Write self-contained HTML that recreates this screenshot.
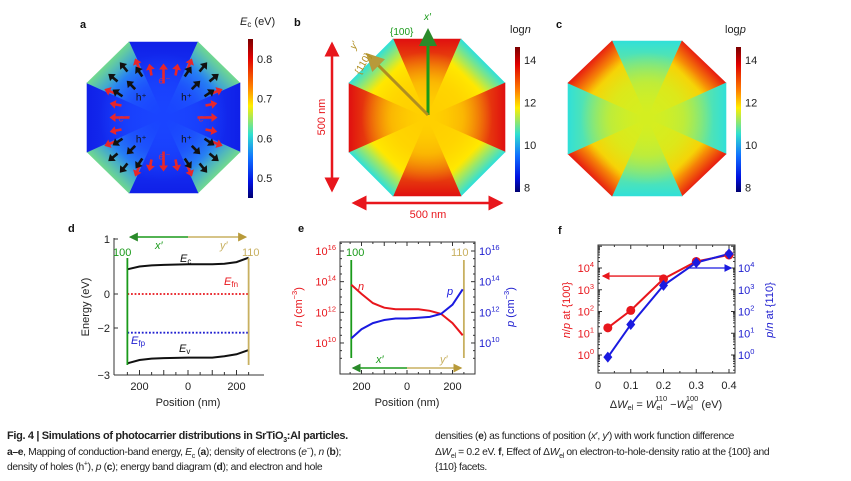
<!DOCTYPE html>
<html><head><meta charset="utf-8"><style>
html,body{margin:0;padding:0;background:#fff;}
svg{display:block;font-family:"Liberation Sans",sans-serif;}
.cap{position:absolute;font-family:"Liberation Sans",sans-serif;font-size:10.3px;color:#222;letter-spacing:-0.35px;line-height:15.5px;white-space:nowrap;}
.cap sub,.cap sup{line-height:0;font-size:7px;}
</style></head><body>
<div style="position:relative;width:851px;height:481px;overflow:hidden">
<svg id="fig" width="851" height="481" viewBox="0 0 851 481">
<defs>
<linearGradient id="jet" x1="0" y1="0" x2="0" y2="1">
<stop offset="0" stop-color="#7a0000"/><stop offset="0.12" stop-color="#e00000"/><stop offset="0.3" stop-color="#ff8000"/><stop offset="0.42" stop-color="#ffee00"/><stop offset="0.6" stop-color="#30e0d0"/><stop offset="0.75" stop-color="#1070ff"/><stop offset="0.9" stop-color="#0010e0"/><stop offset="1" stop-color="#000070"/>
</linearGradient>
<marker id="ahR" markerWidth="6" markerHeight="6" refX="5" refY="3" orient="auto-start-reverse"><path d="M0,0L6,3L0,6z" fill="#e8161c"/></marker>
<marker id="ahG" markerWidth="6" markerHeight="6" refX="5" refY="3" orient="auto-start-reverse"><path d="M0,0L6,3L0,6z" fill="#2a8a2a"/></marker>
<marker id="ahO" markerWidth="6" markerHeight="6" refX="5" refY="3" orient="auto-start-reverse"><path d="M0,0L6,3L0,6z" fill="#b89a3a"/></marker>
<marker id="ahB" markerWidth="6" markerHeight="6" refX="5" refY="3" orient="auto-start-reverse"><path d="M0,0L6,3L0,6z" fill="#1a1ae0"/></marker>
</defs>
<g id="maps"></g>
<g id="pd"></g><g id="pe"></g><g id="pf"></g>
</svg>
<div class="cap" style="left:7px;top:429px;width:425px">
<b style="font-size:11px">Fig. 4 | Simulations of photocarrier distributions in SrTiO<sub>3</sub>:Al particles.</b><br>
<b>a–e</b>, Mapping of conduction-band energy, <i>E</i><sub>c</sub> (<b>a</b>); density of electrons (<i>e</i><sup>−</sup>), <i>n</i> (<b>b</b>);<br>
density of holes (h<sup>+</sup>), <i>p</i> (<b>c</b>); energy band diagram (<b>d</b>); and electron and hole</div>
<div class="cap" style="left:435px;top:429px;width:415px">
densities (<b>e</b>) as functions of position (<i>x</i>′, <i>y</i>′) with work function difference<br>
Δ<i>W</i><sub>el</sub> = 0.2 eV. <b>f</b>, Effect of Δ<i>W</i><sub>el</sub> on electron-to-hole-density ratio at the {100} and<br>
{110} facets.</div>
</div>
<script>
const NS="http://www.w3.org/2000/svg";
function mk(parent,tag,attrs,text){const e=document.createElementNS(NS,tag);for(const k in attrs)e.setAttribute(k,attrs[k]);if(text!==undefined)e.textContent=text;parent.appendChild(e);return e;}
const defs=document.querySelector('defs');
let gid=0;

const maps=document.getElementById('maps');
function octagon(name,x0,x1,y0,y1,cx,cy,flatEdge,flatCenter,diagEdge,diagMid,diagCenter,blobColor){
  const g=mk(maps,'g',{});
  
  
  const P=[[x0+cx,y0],[x1-cx,y0],[x1,y0+cy],[x1,y1-cy],[x1-cx,y1],[x0+cx,y1],[x0,y1-cy],[x0,y0+cy]];
  const C=[(x0+x1)/2,(y0+y1)/2];
  for(let i=0;i<8;i++){
    const a=P[i],b=P[(i+1)%8];const m=[(a[0]+b[0])/2,(a[1]+b[1])/2];
    const flat=(i%2===0);
    const id='og'+(gid++);
    const lg=mk(defs,'linearGradient',{id:id,gradientUnits:'userSpaceOnUse',x1:m[0],y1:m[1],x2:C[0],y2:C[1]});
    if(flat){mk(lg,'stop',{offset:0,'stop-color':flatEdge});mk(lg,'stop',{offset:1,'stop-color':flatCenter});}
    else{mk(lg,'stop',{offset:0,'stop-color':diagEdge});mk(lg,'stop',{offset:0.3,'stop-color':diagMid});mk(lg,'stop',{offset:1,'stop-color':diagCenter});}
    mk(g,'polygon',{points:[a,b,C].map(p=>p.join(',')).join(' '),fill:'url(#'+id+')',stroke:'url(#'+id+')','stroke-width':0.6});
  }
  const rid='rg'+(gid++);
  const rg=mk(defs,'radialGradient',{id:rid,gradientUnits:'userSpaceOnUse',cx:C[0],cy:C[1],r:(x1-x0)*0.42});
  mk(rg,'stop',{offset:0,'stop-color':blobColor,'stop-opacity':1});
  mk(rg,'stop',{offset:0.55,'stop-color':blobColor,'stop-opacity':0.7});
  mk(rg,'stop',{offset:1,'stop-color':blobColor,'stop-opacity':0});
  mk(g,'circle',{cx:C[0],cy:C[1],r:(x1-x0)*0.42,fill:'url(#'+rid+')'});
  return {g,C,P};
}
function colorbar(name,x,y0,y1,ticks,vmin,vmax,title,tx){
  const g=mk(maps,'g',{});
  
  
  mk(g,'rect',{x:x,y:y0,width:5,height:y1-y0,fill:'url(#jet)'});
  ticks.forEach(t=>{const y=y1-(t-vmin)/(vmax-vmin)*(y1-y0);mk(g,'text',{x:x+9,y:y+4,'font-size':11,fill:'#222'},String(t));});
  const tt=mk(g,'text',{x:tx,y:y0-14,'font-size':11,fill:'#222'});tt.innerHTML=title;
}
function label(x,y,t,attrs){return mk(maps,'text',Object.assign({x:x,y:y,'font-size':11,'font-weight':'bold',fill:'#111'},attrs||{}),t);}

const A=octagon('ec-map',87,240,42,193,42,41,'#1020e8','#1a48ff','#70d890','#2a90f0','#1a48ff','#1a44ff');
colorbar('ec-colorbar',248,39,198,[0.5,0.6,0.7,0.8],0.45,0.85,'<tspan font-style="italic">E</tspan><tspan font-size="8" dy="2">c</tspan><tspan dy="-2"> (eV)</tspan>',240);
label(80,28,'a',{});
function arrow(g,x,y,ang,len,col){const r=ang*Math.PI/180;const x2=x+Math.cos(r)*len,y2=y+Math.sin(r)*len;
  mk(g,'line',{x1:x,y1:y,x2:x2-Math.cos(r)*3,y2:y2-Math.sin(r)*3,stroke:col,'stroke-width':2.6});
  const hx=x2,hy=y2,w=4.5;mk(g,'polygon',{points:`${hx},${hy} ${hx-Math.cos(r)*6-Math.sin(r)*w},${hy-Math.sin(r)*6+Math.cos(r)*w} ${hx-Math.cos(r)*6+Math.sin(r)*w},${hy-Math.sin(r)*6-Math.cos(r)*w}`,fill:col});}
const ag=mk(maps,'g',{});


const ac=A.C;
[0,90,180,270].forEach(dir=>{
  const r=dir*Math.PI/180;
  [-24,-12,0,12,24].forEach((o,k)=>{
    const d=(k===2)?52:(k===1||k===3?60:66);
    const px=ac[0]+Math.cos(r)*(d-18)-Math.sin(r)*o, py=ac[1]+Math.sin(r)*(d-18)+Math.cos(r)*o;
    arrow(ag,px,py,dir+o*0.9,k===2?20:12,'#e8262a');
  });
  const ex=ac[0]+Math.cos(r)*40, ey=ac[1]+Math.sin(r)*38;
  mk(ag,'text',{x:ex-5,y:ey+4,'font-size':10,fill:'#c03060','font-style':'italic'},'e⁻');
});
[45,135,225,315].forEach(dir=>{
  const r=dir*Math.PI/180;
  [[-14,44],[0,40],[14,44],[-7,58],[7,58]].forEach(([o,d])=>{
    const px=ac[0]+Math.cos(r)*d-Math.sin(r)*o, py=ac[1]+Math.sin(r)*d+Math.cos(r)*o;
    arrow(ag,px,py,dir+o*0.8,12,'#111');
  });
  const hx=ac[0]+Math.cos(r)*32, hy=ac[1]+Math.sin(r)*30;
  mk(ag,'text',{x:hx-5,y:hy+4,'font-size':10,fill:'#111'},'h⁺');
});

const B=octagon('log-n-map',349,505,39,196,44,44,'#e01010','#ffd800','#30e0d8','#ffee00','#ffcc00','#ffd000');
colorbar('log-n-colorbar',515,47,192,[8,10,12,14],7.8,14.6,'log<tspan font-style="italic">n</tspan>',510);
label(294,26,'b',{});
const sg=mk(maps,'g',{});


mk(sg,'line',{x1:332,y1:44,x2:332,y2:190,stroke:'#e8161c','stroke-width':2.5,'marker-start':'url(#ahR)','marker-end':'url(#ahR)'});
mk(sg,'text',{x:0,y:0,'font-size':11,fill:'#e8161c',transform:'translate(325,117) rotate(-90)','text-anchor':'middle'},'500 nm');
mk(sg,'line',{x1:354,y1:203,x2:501,y2:203,stroke:'#e8161c','stroke-width':2.5,'marker-start':'url(#ahR)','marker-end':'url(#ahR)'});
mk(sg,'text',{x:428,y:218,'font-size':11,fill:'#e8161c','text-anchor':'middle'},'500 nm');
mk(sg,'line',{x1:428,y1:115,x2:428,y2:31,stroke:'#1a9a1a','stroke-width':3,'marker-end':'url(#ahG)'});
mk(sg,'text',{x:424,y:20,'font-size':10,fill:'#1a9a1a','font-style':'italic'},"x′");
mk(sg,'text',{x:390,y:35,'font-size':10,fill:'#1a9a1a'},'{100}');
mk(sg,'line',{x1:428,y1:115,x2:368,y2:55,stroke:'#b08e20','stroke-width':3,'marker-end':'url(#ahO)'});
mk(sg,'text',{x:0,y:0,'font-size':10,fill:'#b08e20',transform:'translate(360,75) rotate(-60)'},'{110}');
mk(sg,'text',{x:0,y:0,'font-size':10,fill:'#b08e20','font-style':'italic',transform:'translate(355,50) rotate(-60)'},"y′");

octagon('log-p-map',568,726,41,196,44,42,'#30e0d8','#d8f020','#e82010','#ffcc00','#d8f020','#d4ee20');
colorbar('log-p-colorbar',736,47,192,[8,10,12,14],7.8,14.6,'log<tspan font-style="italic">p</tspan>',725);
label(556,28,'c',{});
</script>

<script>
const dPos=[-250,-200,-150,-100,0,100,150,200,250];
const dEc=[0.45,0.5,0.52,0.53,0.54,0.54,0.55,0.58,0.66];
const dEv=[-2.75,-2.68,-2.65,-2.64,-2.63,-2.63,-2.6,-2.56,-2.47];
const dEfn=[0,0];
const dEfp=[-2.1,-2.1];
const dEfX=[-250,250];
const dYTicks=[1,0,-2,-3];
const dXTicks=[-200,0,200];
(function(){
  const g=document.getElementById('pd');
  const X=v=>188+v*0.2425;
  const yAnchorPx=[239,294,328,375];
  const Y=v=>{for(let i=0;i<dYTicks.length-1;i++){const a=dYTicks[i],b=dYTicks[i+1];if(v<=a&&v>=b||i===dYTicks.length-2){return yAnchorPx[i]+(a-v)/(a-b)*(yAnchorPx[i+1]-yAnchorPx[i]);}}};
  const ax=mk(g,'g',{});
  
  
  mk(ax,'line',{x1:114,y1:238,x2:114,y2:375,stroke:'#333','stroke-width':1});
  mk(ax,'line',{x1:114,y1:375,x2:264,y2:375,stroke:'#333','stroke-width':1});
  dYTicks.forEach(t=>{const y=Y(t);mk(ax,'line',{x1:114,y1:y,x2:118,y2:y,stroke:'#333'});mk(ax,'text',{x:110,y:y+4,'font-size':11,'text-anchor':'end',fill:'#222'},t<0?'−'+(-t):String(t));});
  for(let v=-250;v<=250;v+=50){mk(ax,'line',{x1:X(v),y1:375,x2:X(v),y2:v%100===0?370:372,stroke:'#333'});}
  dXTicks.forEach(t=>mk(ax,'text',{x:X(t),y:390,'font-size':11,'text-anchor':'middle',fill:'#222'},String(Math.abs(t))));
  mk(ax,'text',{x:188,y:406,'font-size':11,'text-anchor':'middle',fill:'#222'},'Position (nm)');
  mk(ax,'text',{x:0,y:0,'font-size':11,fill:'#222','text-anchor':'middle',transform:'translate(89,307) rotate(-90)'},'Energy (eV)');
  mk(g,'text',{x:68,y:232,'font-size':11,'font-weight':'bold',fill:'#111'},'d');
  const line=(xs,ys,col,w,dash,name)=>{const p=mk(g,'path',{d:xs.map((x,i)=>(i?'L':'M')+X(x).toFixed(1)+','+Y(ys[i]).toFixed(1)).join(''),fill:'none',stroke:col,'stroke-width':w,'stroke-dasharray':dash||'none'});};
  line(dPos,dEc,'#111',2,null,'ec-curve');
  line(dPos,dEv,'#111',2,null,'ev-curve');
  line(dEfX,dEfn,'#e8161c',1.8,'1.8,1.8','efn-line');
  line(dEfX,dEfp,'#2020d0',1.8,'1.8,1.8','efp-line');
  mk(g,'line',{x1:X(-250),y1:258,x2:X(-250),y2:365,stroke:'#1a9a1a','stroke-width':1.8});
  mk(g,'line',{x1:X(250),y1:258,x2:X(250),y2:365,stroke:'#c8b060','stroke-width':1.8});
  mk(g,'line',{x1:X(0),y1:237,x2:X(-250)+3,y2:237,stroke:'#1a9a1a','stroke-width':1.5,'marker-end':'url(#ahG)'});
  mk(g,'line',{x1:X(0),y1:237,x2:X(250)-3,y2:237,stroke:'#c8b060','stroke-width':1.5,'marker-end':'url(#ahO)'});
  mk(g,'text',{x:155,y:249,'font-size':11,fill:'#1a9a1a','font-style':'italic'},"x′");
  mk(g,'text',{x:220,y:249,'font-size':11,fill:'#c8b060','font-style':'italic'},"y′");
  mk(g,'text',{x:113,y:256,'font-size':11,fill:'#1a9a1a'},'100');
  mk(g,'text',{x:242,y:256,'font-size':11,fill:'#c8b060'},'110');
  const t1=mk(g,'text',{x:180,y:262,'font-size':11,fill:'#111'});t1.innerHTML='<tspan font-style="italic">E</tspan><tspan font-size="8" dy="2">c</tspan>';
  const t2=mk(g,'text',{x:224,y:285,'font-size':11,fill:'#e8161c'});t2.innerHTML='<tspan font-style="italic">E</tspan><tspan font-size="8" dy="2">fn</tspan>';
  const t3=mk(g,'text',{x:131,y:344,'font-size':11,fill:'#2020d0'});t3.innerHTML='<tspan font-style="italic">E</tspan><tspan font-size="8" dy="2">fp</tspan>';
  const t4=mk(g,'text',{x:179,y:352,'font-size':11,fill:'#111'});t4.innerHTML='<tspan font-style="italic">E</tspan><tspan font-size="8" dy="2">v</tspan>';
})();
</script>

<script>
const ePos=[-245,-200,-150,-100,-50,0,50,100,150,200,245];
const eLogN=[13.8,13.2,12.6,12.3,12.2,12.2,12.2,12.1,11.9,11.3,10.5];
const eLogP=[10.3,10.9,11.3,11.5,11.6,11.6,11.65,11.7,11.9,12.5,13.5];
const eYTicks=[10,12,14,16];
const eXTicks=[-200,0,200];
(function(){
  const g=document.getElementById('pe');
  const X=v=>407+v*0.2275;
  const Y=v=>251+(16-v)*15.33;
  const ax=mk(g,'g',{});
  
  
  mk(ax,'rect',{x:340,y:242,width:135,height:132,fill:'none',stroke:'#333','stroke-width':1});
  for(let v=9;v<=16.5;v+=0.5){const y=Y(v);if(y<242||y>374)continue;const L=(v%2===0)?4:2;mk(ax,'line',{x1:340,y1:y,x2:340+L,y2:y,stroke:'#333'});mk(ax,'line',{x1:475,y1:y,x2:475-L,y2:y,stroke:'#333'});}
  eYTicks.forEach(t=>{const y=Y(t);
    const a=mk(ax,'text',{x:336,y:y+4,'font-size':11,'text-anchor':'end',fill:'#e8161c'});a.innerHTML='10<tspan font-size="7.5" dy="-5">'+t+'</tspan>';
    const b=mk(ax,'text',{x:479,y:y+4,'font-size':11,fill:'#2020d0'});b.innerHTML='10<tspan font-size="7.5" dy="-5">'+t+'</tspan>';});
  for(let v=-250;v<=250;v+=50){const L=v%100===0?4:2;mk(ax,'line',{x1:X(v),y1:374,x2:X(v),y2:374-L,stroke:'#333'});mk(ax,'line',{x1:X(v),y1:242,x2:X(v),y2:242+L,stroke:'#333'});}
  eXTicks.forEach(t=>mk(ax,'text',{x:X(t),y:390,'font-size':11,'text-anchor':'middle',fill:'#222'},String(Math.abs(t))));
  mk(ax,'text',{x:407,y:406,'font-size':11,'text-anchor':'middle',fill:'#222'},'Position (nm)');
  const yl=mk(ax,'text',{x:0,y:0,'font-size':11,fill:'#e8161c','text-anchor':'middle',transform:'translate(302,307) rotate(-90)'});yl.innerHTML='<tspan font-style="italic">n</tspan> (cm<tspan font-size="7.5" dy="-5">−3</tspan><tspan dy="5">)</tspan>';
  const yr=mk(ax,'text',{x:0,y:0,'font-size':11,fill:'#2020d0','text-anchor':'middle',transform:'translate(514,307) rotate(-90)'});yr.innerHTML='<tspan font-style="italic">p</tspan> (cm<tspan font-size="7.5" dy="-5">−3</tspan><tspan dy="5">)</tspan>';
  mk(g,'text',{x:298,y:232,'font-size':11,'font-weight':'bold',fill:'#111'},'e');
  mk(g,'line',{x1:X(-245),y1:260,x2:X(-245),y2:358,stroke:'#1a9a1a','stroke-width':1.8});
  mk(g,'line',{x1:X(250),y1:260,x2:X(250),y2:358,stroke:'#c8b060','stroke-width':1.8});
  const line=(ys,col,name)=>{const p=mk(g,'path',{d:ePos.map((x,i)=>(i?'L':'M')+X(x).toFixed(1)+','+Y(ys[i]).toFixed(1)).join(''),fill:'none',stroke:col,'stroke-width':2});};
  line(eLogN,'#e8161c','n-curve');
  line(eLogP,'#1a1ae0','p-curve');
  mk(g,'text',{x:358,y:290,'font-size':11,fill:'#e8161c','font-style':'italic'},'n');
  mk(g,'text',{x:447,y:295,'font-size':11,fill:'#1a1ae0','font-style':'italic'},'p');
  mk(g,'text',{x:346,y:256,'font-size':11,fill:'#1a9a1a'},'100');
  mk(g,'text',{x:451,y:256,'font-size':11,fill:'#c8b060'},'110');
  mk(g,'line',{x1:X(0),y1:368,x2:X(-250)+3,y2:368,stroke:'#1a9a1a','stroke-width':1.5,'marker-end':'url(#ahG)'});
  mk(g,'line',{x1:X(0),y1:368,x2:X(250)-3,y2:368,stroke:'#c8b060','stroke-width':1.5,'marker-end':'url(#ahO)'});
  mk(g,'text',{x:376,y:363,'font-size':11,fill:'#1a9a1a','font-style':'italic'},"x′");
  mk(g,'text',{x:440,y:363,'font-size':11,fill:'#c8b060','font-style':'italic'},"y′");
})();
</script>

<script>
const fDW=[0.03,0.1,0.2,0.3,0.4];
const fLogNP=[1.25,2.05,3.5,4.3,4.6];
const fLogPN=[-0.1,1.4,3.2,4.25,4.65];
const fXTicks=[0,0.1,0.2,0.3,0.4];
const fYTicks=[0,1,2,3,4];
(function(){
  const g=document.getElementById('pf');
  const X=v=>598+v*327.5;
  const Y=v=>355-v*21.75;
  const ax=mk(g,'g',{});
  
  
  mk(ax,'rect',{x:598,y:245,width:137,height:128,fill:'none',stroke:'#333','stroke-width':1});
  for(let d=-1;d<=5;d++){for(let m=1;m<10;m++){const y=Y(d+Math.log10(m));if(y<245||y>373)continue;const L=m===1?4:2;mk(ax,'line',{x1:598,y1:y,x2:598+L,y2:y,stroke:'#333'});mk(ax,'line',{x1:735,y1:y,x2:735-L,y2:y,stroke:'#333'});}}
  fYTicks.forEach(t=>{const y=Y(t);
    const a=mk(ax,'text',{x:594,y:y+4,'font-size':11,'text-anchor':'end',fill:'#e8161c'});a.innerHTML='10<tspan font-size="7.5" dy="-5">'+t+'</tspan>';
    const b=mk(ax,'text',{x:738,y:y+4,'font-size':11,fill:'#2020d0'});b.innerHTML='10<tspan font-size="7.5" dy="-5">'+t+'</tspan>';});
  for(let v=0;v<=0.41;v+=0.05){const L=Math.round(v*100)%10===0?4:2;mk(ax,'line',{x1:X(v),y1:373,x2:X(v),y2:373-L,stroke:'#333'});mk(ax,'line',{x1:X(v),y1:245,x2:X(v),y2:245+L,stroke:'#333'});}
  fXTicks.forEach(t=>mk(ax,'text',{x:X(t),y:389,'font-size':11,'text-anchor':'middle',fill:'#222'},String(t)));
  const xl=mk(ax,'text',{x:666,y:408,'font-size':11,'text-anchor':'middle',fill:'#222'});
  xl.innerHTML='Δ<tspan font-style="italic">W</tspan><tspan font-size="7.5" dy="2">el</tspan><tspan dy="-2"> = </tspan><tspan font-style="italic">W</tspan><tspan font-size="7.5" dy="2">el</tspan><tspan font-size="7.5" dy="-9" dx="-7">110</tspan><tspan dy="7"> −</tspan><tspan font-style="italic">W</tspan><tspan font-size="7.5" dy="2">el</tspan><tspan font-size="7.5" dy="-9" dx="-7">100</tspan><tspan dy="7"> (eV)</tspan>';
  const yl=mk(ax,'text',{x:0,y:0,'font-size':11,fill:'#e8161c','text-anchor':'middle',transform:'translate(570,310) rotate(-90)'});yl.innerHTML='<tspan font-style="italic">n</tspan>/<tspan font-style="italic">p</tspan> at {100}';
  const yr=mk(ax,'text',{x:0,y:0,'font-size':11,fill:'#2020d0','text-anchor':'middle',transform:'translate(773,310) rotate(-90)'});yr.innerHTML='<tspan font-style="italic">p</tspan>/<tspan font-style="italic">n</tspan> at {110}';
  mk(g,'text',{x:558,y:234,'font-size':11,'font-weight':'bold',fill:'#111'},'f');
  mk(g,'line',{x1:X(0.2),y1:Y(3.63),x2:603,y2:Y(3.63),stroke:'#e8161c','stroke-width':1.3,'marker-end':'url(#ahR)'});
  mk(g,'line',{x1:X(0.27),y1:Y(4.0),x2:731,y2:Y(4.0),stroke:'#1a1ae0','stroke-width':1.3,'marker-end':'url(#ahB)'});
  const p1=mk(g,'path',{d:fDW.map((x,i)=>(i?'L':'M')+X(x)+','+Y(fLogNP[i])).join(''),fill:'none',stroke:'#e8161c','stroke-width':2});
  
  
  const p2=mk(g,'path',{d:fDW.map((x,i)=>(i?'L':'M')+X(x)+','+Y(fLogPN[i])).join(''),fill:'none',stroke:'#1a1ae0','stroke-width':2});
  
  
  fDW.forEach((x,i)=>{
    const c=mk(g,'circle',{cx:X(x),cy:Y(fLogNP[i]),r:4.5,fill:'#e8161c'});
    
    
    const cx=X(x),cy=Y(fLogPN[i]);
    const d=mk(g,'polygon',{points:`${cx},${cy-5.5} ${cx+4.5},${cy} ${cx},${cy+5.5} ${cx-4.5},${cy}`,fill:'#1a1ae0'});
    
    
  });
})();
</script>
</body></html>
